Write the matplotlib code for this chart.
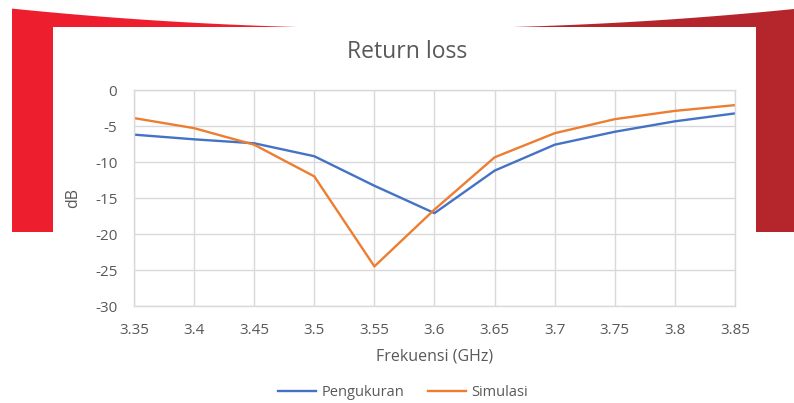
import matplotlib
matplotlib.use("Agg")
import matplotlib.pyplot as plt
import numpy as np
from matplotlib.patches import Polygon, Rectangle

freq = [3.35, 3.4, 3.45, 3.5, 3.55, 3.6, 3.65, 3.7, 3.75, 3.8, 3.85]
pengukuran = [-6.2, -6.85, -7.4, -9.2, -13.3, -17.1, -11.2, -7.6, -5.8, -4.35, -3.25]
simulasi = [-3.9, -5.3, -7.6, -12.0, -24.5, -16.6, -9.35, -6.0, -4.05, -2.9, -2.1]
xticks = [3.35, 3.4, 3.45, 3.5, 3.55, 3.6, 3.65, 3.7, 3.75, 3.8, 3.85]
xticklabels = ["3.35", "3.4", "3.45", "3.5", "3.55", "3.6", "3.65", "3.7", "3.75", "3.8", "3.85"]
yticks = [0, -5, -10, -15, -20, -25, -30]

W, H = 794, 403
plt.rcParams['font.family'] = ['Open Sans', 'DejaVu Sans']
plt.rcParams['axes.unicode_minus'] = False
fig = plt.figure(figsize=(W / 100, H / 100), dpi=100)

def px(x, y):
    return (x / W, 1 - y / H)

# decorative red background
xs = np.linspace(12, 794, 200)
u = (xs - 405) / 389
ytop = 9 + 19.5 * (1 - u ** 2)
left_mask = xs <= 405
ptsL = [px(x, y) for x, y in zip(xs[left_mask], ytop[left_mask])] + [px(405, 232), px(12, 232)]
ptsR = [px(x, y) for x, y in zip(xs[~left_mask], ytop[~left_mask])] + [px(794, 232), px(405, 232)]
fig.patches.append(Polygon(ptsL, closed=True, transform=fig.transFigure, facecolor='#ED1F2E', edgecolor='none', zorder=0))
fig.patches.append(Polygon(ptsR, closed=True, transform=fig.transFigure, facecolor='#B5262C', edgecolor='none', zorder=0))
fig.patches.append(Rectangle(px(53, 403), (756 - 53) / W, (403 - 27) / H, transform=fig.transFigure,
                             facecolor='white', edgecolor='none', zorder=1))

ax = fig.add_axes([134 / W, 1 - 306 / H, (735 - 134) / W, (306 - 90) / H])
ax.set_zorder(2)
ax.patch.set_alpha(0)

ax.plot(freq, pengukuran, color='#4472C4', lw=1.7, label='Pengukuran', solid_joinstyle='round')
ax.plot(freq, simulasi, color='#ED7D31', lw=1.7, label='Simulasi', solid_joinstyle='round')

ax.set_xlim(3.35, 3.85)
ax.set_ylim(-30, 0)
ax.set_xticks(xticks)
ax.set_xticklabels(xticklabels)
ax.set_yticks(yticks)
ax.grid(True, color='#D9D9D9', lw=1)
ax.set_axisbelow(True)
for s in ax.spines.values():
    s.set_color('#D9D9D9')
    s.set_linewidth(1)
ax.tick_params(length=0, labelsize=11, labelcolor='#595959', pad=12)

ax.set_xlabel('Frekuensi (GHz)', fontsize=11.5, color='#595959', labelpad=8)
ax.set_ylabel('dB', fontsize=11.5, color='#595959', labelpad=10)

fig.text(407 / W, 1 - 52 / H, 'Return loss', ha='center', va='center', fontsize=16.5, color='#595959', zorder=3)

leg = fig.legend(loc='center', bbox_to_anchor=(403 / W, 1 - 393 / H), ncol=2, frameon=False,
                 fontsize=10.5, handlelength=2.6, columnspacing=1.6, handletextpad=0.4)
for t in leg.get_texts():
    t.set_color('#595959')

fig.savefig('out.png', dpi=100)
